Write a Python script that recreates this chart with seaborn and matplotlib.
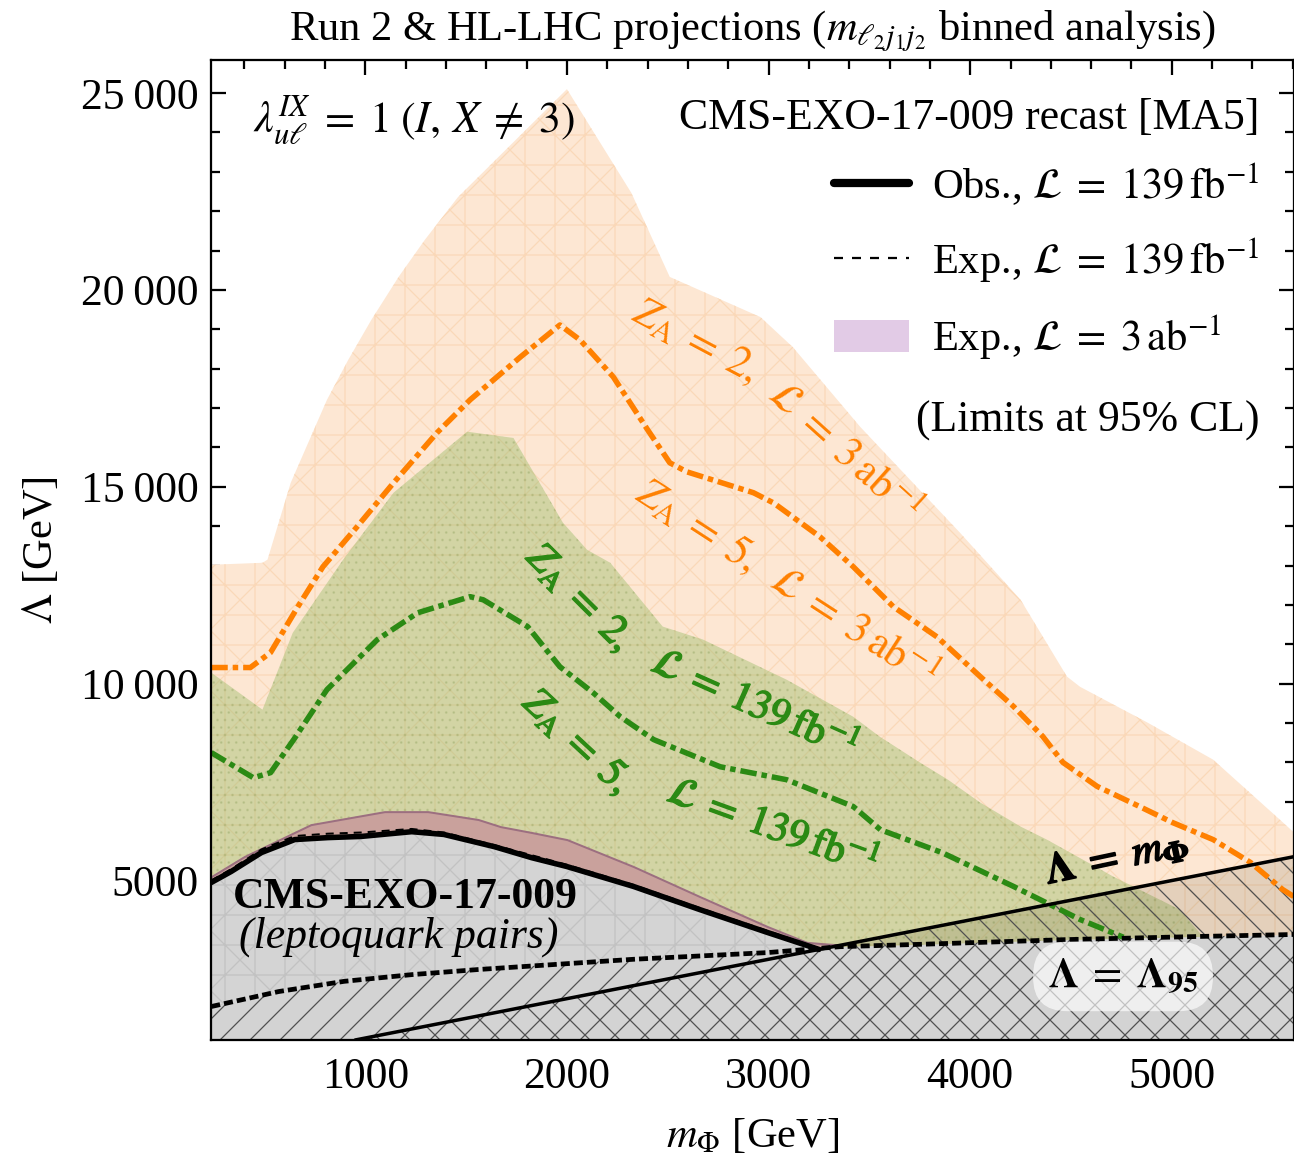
import numpy as np
import matplotlib
matplotlib.use("Agg")
import matplotlib.pyplot as plt
import matplotlib.patheffects as pe
from matplotlib.lines import Line2D
from matplotlib.patches import Patch
from matplotlib.ticker import MultipleLocator
import seaborn as sns

# --- data (m_Phi in GeV, Lambda in GeV) ---

# Z_A = 2, L = 3 ab^-1 : upper edge of the orange region
za2_hl_m = [236, 490, 515, 630, 810, 915, 1030, 1165, 1295, 1460, 1610, 2000,
            2320, 2510, 2960, 3120, 3455, 3950, 4250, 4480, 4545, 4880, 5205,
            5535, 5606]
za2_hl_lam = [13020, 13070, 13150, 15100, 17210, 18220, 19240, 20330, 21270,
              22360, 23120, 25100, 22460, 20330, 19310, 18550, 16520, 13830,
              12130, 10180, 9920, 9010, 8070, 6550, 6220]

# Z_A = 5, L = 3 ab^-1 : orange dash-dot
za5_hl_m = [236, 430, 530, 665, 790, 960, 1140, 1355, 1520, 1770, 1965, 2065,
            2230, 2400, 2510, 2595, 2925, 3025, 3255, 3420, 3620, 3835, 4050,
            4215, 4360, 4460, 4630, 4840, 5005, 5205, 5390, 5550, 5606]
za5_hl_lam = [10410, 10410, 10790, 11950, 12970, 13990, 15100, 16370, 17210,
              18300, 19110, 18730, 17790, 16450, 15610, 15380, 14850, 14590,
              13730, 12970, 11950, 11190, 10180, 9420, 8660, 8000, 7390, 6880,
              6470, 6040, 5460, 4770, 4590]

# Z_A = 2, L = 139 fb^-1 : upper edge of the green region
za2_r2_m = [236, 490, 640, 890, 1140, 1505, 1735, 1980, 2100, 2215, 2475, 2675,
            3090, 3420, 3550, 3750, 3890, 4050, 4250, 4380, 4710, 5040, 5150]
za2_r2_lam = [10280, 9340, 11290, 13150, 14850, 16400, 16240, 14090, 13400,
              13070, 11450, 11120, 10100, 9160, 8660, 8000, 7560, 6980, 6370,
              6040, 5100, 4260, 3600]

# Z_A = 5, L = 139 fb^-1 : green dash-dot
za5_r2_m = [236, 445, 530, 645, 810, 1060, 1260, 1520, 1585, 1805, 1965, 2130,
            2265, 2430, 2760, 3090, 3420, 3555, 3860, 4215, 4545, 4760]
za5_r2_lam = [8250, 7610, 7740, 8580, 9850, 11120, 11800, 12210, 12130, 11450,
              10430, 9770, 9160, 8580, 7890, 7560, 6880, 6290, 5710, 4850,
              4010, 3560]

# CMS-EXO-17-009 recast, observed 139 fb^-1
obs_m = [236, 335, 485, 650, 815, 980, 1230, 1390, 1640, 1825, 2000, 2330,
         2660, 2995, 3250]
obs_lam = [4950, 5230, 5710, 6040, 6090, 6120, 6240, 6170, 5860, 5580, 5355,
           4850, 4260, 3680, 3250]

# expected 139 fb^-1 (almost on top of the observed one)
exp_m = [236, 335, 485, 650, 815, 980, 1230, 1390, 1640, 2000, 2330, 2660,
         2995, 3250]
exp_lam = [5000, 5290, 5790, 6130, 6190, 6220, 6310, 6220, 5900, 5400, 4890,
           4300, 3720, 3280]

# expected 3 ab^-1 (thin band above the CMS region)
exp_hl_m = [236, 400, 730, 1095, 1310, 1560, 1670, 1825, 2000, 2330, 2660,
            2995, 3190, 3360]
exp_hl_lam = [5100, 5610, 6420, 6750, 6750, 6550, 6370, 6220, 6040, 5355,
              4590, 3830, 3430, 3360]

# Lambda = Lambda_95 (validity line)
lam95_m = [236, 570, 895, 1230, 1560, 2330, 2995, 3355, 3815, 4480, 5140, 5606]
lam95_lam = [1800, 2180, 2440, 2610, 2740, 3000, 3170, 3320, 3390, 3500, 3580,
             3630]

# Lambda = m_Phi
diag_m = [950, 5606]

xtick_vals = [1000, 2000, 3000, 4000, 5000]
ytick_vals = [5000, 10000, 15000, 20000, 25000]
ytick_labels = ["5000", "10\u2009000", "15\u2009000", "20\u2009000", "25\u2009000"]

x_lo, x_hi = 235, 5606
y_lo, y_hi = 950, 25840

ORANGE = "#ff8000"
GREEN = "#2b8a14"

sns.set_theme(style="ticks")
plt.rcParams["font.family"] = ["Liberation Serif", "DejaVu Serif"]
plt.rcParams["mathtext.fontset"] = "stix"
plt.rcParams["hatch.linewidth"] = 0.5
plt.rcParams["text.color"] = "black"
plt.rcParams["axes.labelcolor"] = "black"

fig = plt.figure(figsize=(1294 / 180, 1158 / 180), dpi=180)
ax = fig.add_axes([0.1631, 0.1019, 0.8369, 0.8463])

# shaded regions
ax.fill_between(za2_hl_m, y_lo, za2_hl_lam, facecolor="#fde7d3",
                edgecolor="#fad8b8", hatch="+x", linewidth=0, zorder=1)
ax.fill_between(za2_r2_m, y_lo, za2_r2_lam, facecolor=(0.62, 0.74, 0.42, 0.45),
                edgecolor=(0.45, 0.55, 0.25, 0.18), hatch="....", linewidth=0,
                zorder=2)
ax.fill_between(exp_hl_m, y_lo, exp_hl_lam, facecolor="#c9a19c",
                edgecolor="#9c6f80", linewidth=0.8, zorder=3)
ax.fill_between(obs_m, y_lo, obs_lam, facecolor="#d4d4d4",
                edgecolor="#c2c2c2", hatch="+x", linewidth=0, zorder=3.5)

# region below Lambda_95 (gray) and tint of the Lambda < m_Phi region
m_grid = np.linspace(x_lo, x_hi, 500)
l95_grid = np.interp(m_grid, lam95_m, lam95_lam)
ax.fill_between(m_grid, l95_grid, np.maximum(m_grid, l95_grid),
                facecolor=(0.25, 0.22, 0.1, 0.13), linewidth=0, zorder=4)
ax.fill_between(lam95_m, y_lo, lam95_lam, facecolor="#d3d3d3", linewidth=0,
                zorder=5)
ax.fill_between(lam95_m, y_lo, lam95_lam, facecolor="none",
                edgecolor="#505050", hatch="//", linewidth=0, zorder=6)
ax.fill_between(diag_m, y_lo, diag_m, facecolor="none",
                edgecolor="#505050", hatch="\\\\", linewidth=0, zorder=6)

# curves
dashdot = (0, (3, 0.9, 1, 0.9))
sns.lineplot(x=za5_hl_m, y=za5_hl_lam, ax=ax, color=ORANGE, linewidth=2.2,
             linestyle=dashdot, sort=False, estimator=None, zorder=7)
sns.lineplot(x=za5_r2_m, y=za5_r2_lam, ax=ax, color=GREEN, linewidth=2.2,
             linestyle=dashdot, sort=False, estimator=None, zorder=7)
sns.lineplot(x=exp_m, y=exp_lam, ax=ax, color="black", linewidth=0.8,
             linestyle=(0, (4, 3)), sort=False, estimator=None, zorder=7)
sns.lineplot(x=obs_m, y=obs_lam, ax=ax, color="black", linewidth=2.2,
             sort=False, estimator=None, zorder=8)
sns.lineplot(x=diag_m, y=diag_m, ax=ax, color="black", linewidth=1.4,
             sort=False, estimator=None, zorder=8)
sns.lineplot(x=lam95_m, y=lam95_lam, ax=ax, color="black", linewidth=1.9,
             linestyle=(0, (1.9, 0.85)), sort=False, estimator=None, zorder=8)

# axes
ax.set_xlim(x_lo, x_hi)
ax.set_ylim(y_lo, y_hi)
ax.set_xticks(xtick_vals, [str(v) for v in xtick_vals])
ax.set_yticks(ytick_vals, ytick_labels)
ax.xaxis.set_minor_locator(MultipleLocator(200))
ax.yaxis.set_minor_locator(MultipleLocator(1000))
ax.tick_params(which="both", direction="in", top=True, right=True,
               color="black", width=0.9, labelsize=17.5, labelcolor="black")
ax.tick_params(which="major", length=6)
ax.tick_params(which="minor", length=3.5)
ax.tick_params(axis="x", pad=7)
ax.tick_params(axis="y", pad=5)
for sp in ax.spines.values():
    sp.set_linewidth(0.9)
    sp.set_color("black")
    sp.set_zorder(10)

ax.set_xlabel(r"$m_\Phi$ [GeV]", fontsize=17, labelpad=8)
ax.set_ylabel(r"$\Lambda$ [GeV]", fontsize=17, labelpad=8)
ax.set_title(r"Run 2 & HL-LHC projections ($m_{\ell_2 j_1 j_2}$ binned analysis)",
             fontsize=17, pad=8)

# legend
eq = r"\;=\;"
handles = [Line2D([], [], color="black", linewidth=3.3),
           Line2D([], [], color="black", linewidth=0.9, linestyle=(0, (4, 4))),
           Patch(facecolor="#e2cbe6", edgecolor="none")]
labels = [r"Obs., $\mathcal{L}" + eq + r"139\,\mathrm{fb}^{-1}$",
          r"Exp., $\mathcal{L}" + eq + r"139\,\mathrm{fb}^{-1}$",
          r"Exp., $\mathcal{L}" + eq + r"3\,\mathrm{ab}^{-1}$"]
leg = ax.legend(handles, labels, loc="upper right", bbox_to_anchor=(0.968, 0.897),
                frameon=False, fontsize=17, handlelength=1.75, handleheight=0.8,
                handletextpad=0.55, labelspacing=0.65, borderpad=0,
                borderaxespad=0)
leg.set_zorder(12)

txt = dict(fontsize=17.5, zorder=11)
ax.text(0.968, 0.941, "CMS-EXO-17-009 recast [MA5]", transform=ax.transAxes,
        ha="right", va="center", **txt)
ax.text(0.968, 0.632, "(Limits at 95% CL)", transform=ax.transAxes,
        ha="right", va="center", **txt)
ax.text(0.039, 0.939,
        r"$\lambda^{IX}_{u\ell}" + eq + r"1\;(I,\,X\;\neq\;3)$",
        transform=ax.transAxes, ha="left", va="center", **txt)

ax.text(1198, 4594, "CMS-EXO-17-009", fontweight="bold", ha="center",
        va="center", **txt)
ax.text(1164, 3560, "(leptoquark pairs)", style="italic", ha="center",
        va="center", **txt)

ax.text(4728, 5560, r"$\mathbf{\Lambda}" + eq + r"m_{\mathbf{\Phi}}$", rotation=12,
        ha="center", va="center", fontsize=17, zorder=11,
        path_effects=[pe.withStroke(linewidth=0.7, foreground="black")])
ax.text(4758, 2564, r"$\mathbf{\Lambda}" + eq + r"\mathbf{\Lambda}_{\mathbf{95}}$",
        ha="center", va="center", fontsize=17, zorder=11,
        bbox=dict(boxstyle="round,pad=0.35,rounding_size=0.8",
                  facecolor="white", edgecolor="none", alpha=0.65))

lab = dict(fontsize=17, ha="center", va="center", zorder=11,
           rotation_mode="anchor")
ax.text(2636, 18680, r"$Z_{\mathrm{A}}" + eq + r"2,$", color=ORANGE, rotation=-28, **lab)
ax.text(3370, 15888, r"$\mathcal{L}" + eq + r"3\,\mathrm{ab}^{-1}$", color=ORANGE,
        rotation=-42, **lab)
ax.text(3092, 12589,
        r"$Z_{\mathrm{A}}" + eq + r"5,\;\;\mathcal{L}" + eq + r"3\,\mathrm{ab}^{-1}$",
        color=ORANGE, rotation=-33, **lab)
glab = dict(lab, fontsize=16.5)
bold_g = [pe.withStroke(linewidth=0.6, foreground=GREEN)]
ax.text(2060, 12150, r"$Z_{\mathrm{A}}" + eq + r"2,$", color=GREEN, rotation=-45,
        path_effects=bold_g, **glab)
ax.text(2930, 9450, r"$\mathcal{L}" + eq + r"139\,\mathrm{fb}^{-1}$", color=GREEN,
        rotation=-24, path_effects=bold_g, **glab)
ax.text(2050, 8500, r"$Z_{\mathrm{A}}" + eq + r"5,$", color=GREEN, rotation=-43,
        path_effects=bold_g, **glab)
ax.text(3020, 6330, r"$\mathcal{L}" + eq + r"139\,\mathrm{fb}^{-1}$", color=GREEN,
        rotation=-20, path_effects=bold_g, **glab)

fig.savefig("out.png", dpi=180)
